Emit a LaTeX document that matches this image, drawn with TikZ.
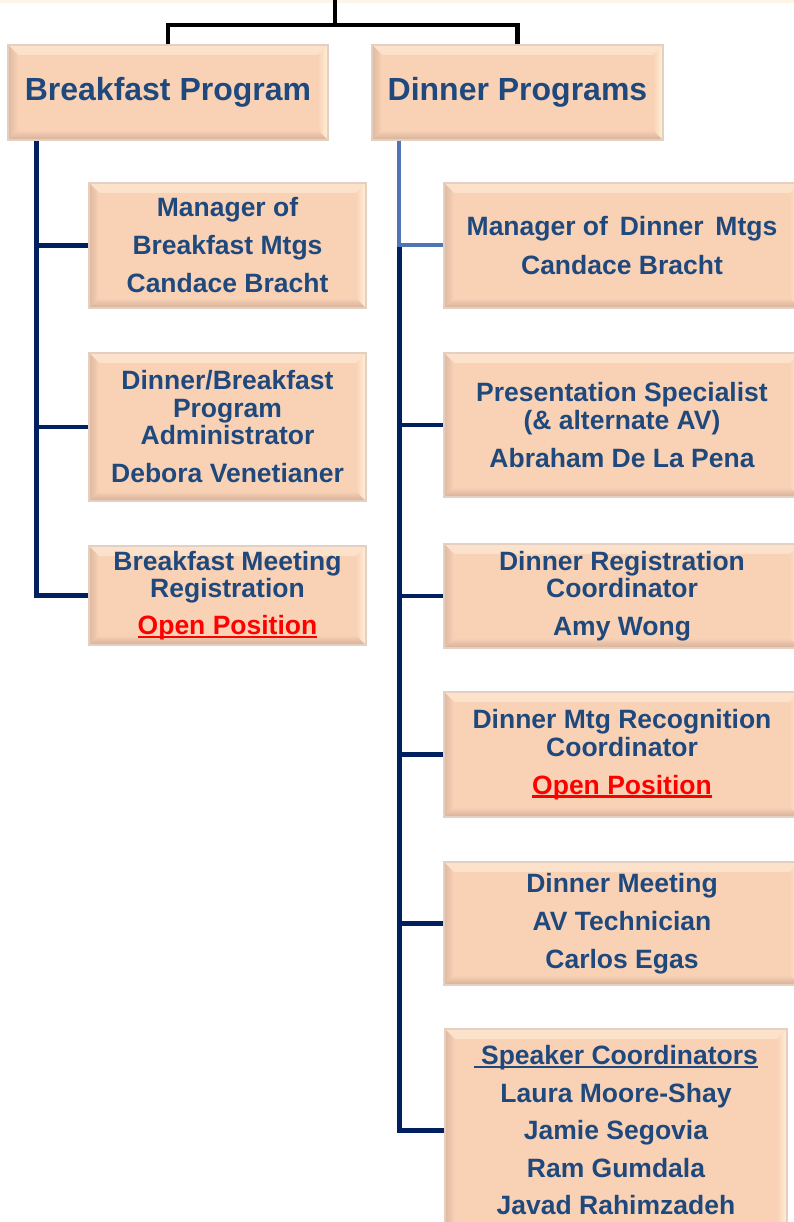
\documentclass[tikz,border=0pt]{standalone}
\usepackage{fontspec}
\setmainfont{Liberation Sans}
\usetikzlibrary{positioning}

\definecolor{peach}{RGB}{249,210,182}
\definecolor{peachtop}{RGB}{252,226,204}
\definecolor{peachleft}{RGB}{222,184,160}
\definecolor{peachbot}{RGB}{212,176,152}
\definecolor{peachright}{RGB}{255,240,216}
\definecolor{peachedge}{RGB}{228,208,194}
\definecolor{titleblue}{RGB}{31,73,125}
\definecolor{trunknavy}{RGB}{0,32,96}
\definecolor{trunklight}{RGB}{79,117,181}
\definecolor{openred}{RGB}{255,0,0}
\definecolor{topstrip}{RGB}{253,246,232}

\newcommand{\bv}{10pt}
\newcommand{\ulbox}[1]{\setbox0\hbox{#1}\rlap{\rule[-3.5pt]{\wd0}{2.2pt}}\box0}
\newcommand{\openslot}{\textcolor{openred}{\ulbox{Open Position}}}

\begin{document}
\begin{tikzpicture}[x=1pt,y=-1pt,line join=miter,
  bevelbox/.style={rectangle, fill=peach, draw=peachedge, line width=1.2pt, text=titleblue,
    font=\bfseries\fontsize{26.5}{27.5}\selectfont, align=center, inner sep=0pt,
    path picture={
      \shade[top color=peachtop, bottom color=peach] (path picture bounding box.north west) -- (path picture bounding box.north east)
        -- ([shift={(-\bv,-\bv)}]path picture bounding box.north east)
        -- ([shift={(\bv,-\bv)}]path picture bounding box.north west) -- cycle;
      \shade[top color=peach, bottom color=peachbot] (path picture bounding box.south west) -- (path picture bounding box.south east)
        -- ([shift={(-\bv,\bv)}]path picture bounding box.south east)
        -- ([shift={(\bv,\bv)}]path picture bounding box.south west) -- cycle;
      \shade[left color=peachleft, right color=peach] (path picture bounding box.south west) -- (path picture bounding box.north west)
        -- ([shift={(\bv,-\bv)}]path picture bounding box.north west)
        -- ([shift={(\bv,\bv)}]path picture bounding box.south west) -- cycle;
      \shade[left color=peach, right color=peachright] (path picture bounding box.south east) -- (path picture bounding box.north east)
        -- ([shift={(-\bv,-\bv)}]path picture bounding box.north east)
        -- ([shift={(-\bv,\bv)}]path picture bounding box.south east) -- cycle;
    }},
  titlebox/.style={bevelbox, font=\bfseries\fontsize{32}{36}\selectfont},
  topline/.style={line width=4.5pt, black},
  trunk/.style={line width=4.5pt, trunknavy},
  trunklite/.style={line width=4pt, trunklight}]

\path[use as bounding box, clip] (0,0) rectangle (794,1222);
\fill[topstrip] (0,0) rectangle (794,3);

% Program heads
\node[titlebox, minimum width=320, minimum height=95] (bp) at (168,92.5) {Breakfast Program};
\node[titlebox, minimum width=291, minimum height=95] (dp) at (517.5,92.5) {Dinner Programs};

% Breakfast side
\node[bevelbox, minimum width=277, minimum height=125] (bb1) at (227.5,245.5)
  {Manager of\\[10.5pt] Breakfast Mtgs\\[10.5pt] Candace Bracht};
\node[bevelbox, minimum width=277, minimum height=148] (bb2) at (227.5,427)
  {Dinner/Breakfast\\ Program\\ Administrator\\[10.5pt] Debora Venetianer};
\node[bevelbox, minimum width=277, minimum height=99] (bb3) at (227.5,595.5)
  {Breakfast Meeting\\ Registration\\[9.5pt] \openslot};

% Dinner side
\node[bevelbox, minimum width=356, minimum height=125] (db1) at (622,245.5)
  {Manager of\, Dinner\, Mtgs\\[12pt] Candace Bracht};
\node[bevelbox, minimum width=356, minimum height=144] (db2) at (622,425)
  {Presentation Specialist\\ (\& alternate AV)\\[10.5pt] Abraham De La Pena};
\node[bevelbox, minimum width=356, minimum height=104] (db3) at (622,596)
  {Dinner Registration\\ Coordinator\\[10.5pt] Amy Wong};
\node[bevelbox, minimum width=356, minimum height=125] (db4) at (622,754.5)
  {Dinner Mtg Recognition\\ Coordinator\\[10.5pt] \openslot};
\node[bevelbox, minimum width=356, minimum height=123] (db5) at (622,923.5)
  {Dinner Meeting\\[10.5pt] AV Technician\\[10.5pt] Carlos Egas};
\node[bevelbox, minimum width=342, minimum height=203] (db6) at (616,1130.5)
  {\ulbox{\hspace{7pt}Speaker Coordinators}\\[10pt] Laura Moore-Shay\\[10pt] Jamie Segovia\\[10pt]
   Ram Gumdala\\[10pt] Javad Rahimzadeh};

% Top connector
\coordinate (root) at (335,0);
\coordinate (split) at (335,25);
\draw[topline] (root) -- (split);
\draw[topline] (bp.north) |- (split) -| (dp.north);

% Breakfast trunk
\coordinate (ltop) at ([xshift=29pt]bp.south west);
\draw[trunk] (ltop) |- (bb3.west);
\foreach \n in {bb1,bb2}
  \draw[trunk] (\n.west -| ltop) -- (\n.west);

% Dinner trunk
\coordinate (rtop) at ([xshift=28pt]dp.south west);
\draw[trunk] (db1.west -| rtop) |- (db6.west);
\draw[trunklite] (rtop) |- (db1.west);
\foreach \n in {db2,db3,db4,db5}
  \draw[trunk] (\n.west -| rtop) -- (\n.west);

\end{tikzpicture}
\end{document}
